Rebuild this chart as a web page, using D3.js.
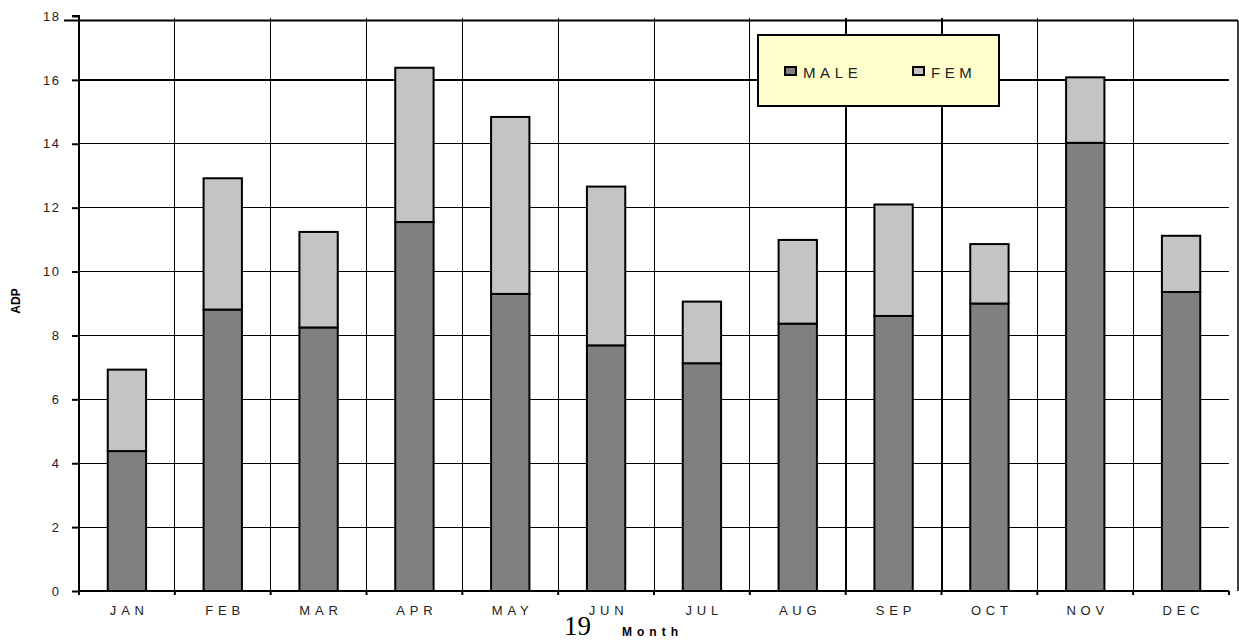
<!DOCTYPE html>
<html><head><meta charset="utf-8">
<script src="https://cdn.jsdelivr.net/npm/d3@7"></script>
<style>
html,body{margin:0;padding:0;background:#fff;}
svg{display:block;font-family:"Liberation Sans",Arial,sans-serif;}
</style></head>
<body><svg id="c" width="1239" height="640"></svg>
<script>
const months = ["JAN","FEB","MAR","APR","MAY","JUN","JUL","AUG","SEP","OCT","NOV","DEC"];
const male = [4.38, 8.81, 8.25, 11.55, 9.30, 7.69, 7.13, 8.37, 8.61, 9.00, 14.03, 9.36];
const fem  = [2.55, 4.11, 2.99, 4.83, 5.54, 4.97, 1.93, 2.62, 3.49, 1.86, 2.05, 1.76];
const seriesNames = ["MALE","FEM"];
const seriesColors = ["#808080","#c4c4c4"];
const yTicks = [0,2,4,6,8,10,12,14,16,18];

const svg = d3.select("#c");
const L = 79, R = 1229, B = 591, T = 16;
const x = d3.scaleBand().domain(months).range([L, R]).paddingInner(0.6).paddingOuter(0.3);
const y = d3.scaleLinear().domain([0, 18]).range([B, T]);
const step = x.step();

// horizontal gridlines
svg.append("g").selectAll("line").data(yTicks.filter(d => d > 0 && d < 18)).join("line")
  .attr("x1", L).attr("x2", R).attr("y1", d => y(d)).attr("y2", d => y(d))
  .attr("stroke", "#000").attr("stroke-width", d => d === 16 ? 2 : 1)
  .attr("shape-rendering", "crispEdges");

// vertical gridlines at category boundaries
svg.append("g").selectAll("line").data(d3.range(1, months.length)).join("line")
  .attr("x1", i => L + i * step).attr("x2", i => L + i * step)
  .attr("y1", T + 2).attr("y2", B)
  .attr("stroke", "#000").attr("stroke-width", i => (i === 8 || i === 9) ? 2 : 1)
  .attr("shape-rendering", "crispEdges");

// outer frame (top and right)
svg.append("line").attr("x1", 64).attr("x2", 1238).attr("y1", 20.5).attr("y2", 20.5)
  .attr("stroke", "#000").attr("stroke-width", 2);
svg.append("line").attr("x1", 1238).attr("x2", 1238).attr("y1", 20.5).attr("y2", 591)
  .attr("stroke", "#000").attr("stroke-width", 1.5);

// stacked bars
const rows = months.map((m, i) => ({month: m, MALE: male[i], FEM: fem[i]}));
const stack = d3.stack().keys(seriesNames)(rows);
svg.append("g").selectAll("g").data(stack).join("g")
  .attr("fill", (d, i) => seriesColors[i])
  .selectAll("rect").data(d => d).join("rect")
  .attr("x", d => x(d.data.month))
  .attr("width", x.bandwidth())
  .attr("y", d => y(d[1]))
  .attr("height", d => y(d[0]) - y(d[1]))
  .attr("stroke", "#000").attr("stroke-width", 2);

// y axis
const yAxis = svg.append("g").attr("transform", `translate(${L},0)`)
  .call(d3.axisLeft(y).tickValues(yTicks).tickSize(7).tickPadding(13).tickFormat(d3.format("d")));
yAxis.select(".domain").attr("stroke", "#000").attr("stroke-width", 2).attr("d", `M-7,${T}H0V${B}`);
yAxis.selectAll(".tick line").attr("stroke-width", 2);
yAxis.selectAll(".tick text").attr("font-size", 13).attr("fill", "#222")
  .attr("font-family", "Liberation Sans, Arial, sans-serif")
  .style("letter-spacing", "1.6px").attr("dx", "1.6px");

// x axis
const xAxis = svg.append("g").attr("transform", `translate(0,${B})`)
  .call(d3.axisBottom(x).tickSize(0).tickPadding(15));
xAxis.select(".domain").attr("stroke", "#000").attr("stroke-width", 2).attr("d", `M${L},0H${R}`);
xAxis.selectAll(".tick text").attr("font-size", 13).attr("fill", "#222")
  .attr("font-family", "Liberation Sans, Arial, sans-serif")
  .style("letter-spacing", "4.8px").attr("dx", "2.4px");
svg.append("g").selectAll("line").data(d3.range(0, months.length + 1)).join("line")
  .attr("x1", i => L + i * step).attr("x2", i => L + i * step)
  .attr("y1", B).attr("y2", B + 4).attr("stroke", "#000").attr("stroke-width", 2);

// axis titles
svg.append("text").attr("transform", "translate(20,301) rotate(-90)")
  .attr("text-anchor", "middle").attr("font-size", 12).attr("font-weight", "bold").text("ADP");
svg.append("text").attr("x", 622).attr("y", 636).attr("font-size", 12).attr("font-weight", "bold")
  .style("letter-spacing", "5px").text("Month");
svg.append("text").attr("x", 564).attr("y", 635).attr("font-size", 27)
  .attr("font-family", "Liberation Serif, Times New Roman, serif").text("19");

// legend
const lg = svg.append("g");
lg.append("rect").attr("x", 758).attr("y", 35).attr("width", 241).attr("height", 71)
  .attr("fill", "#ffffcc").attr("stroke", "#000").attr("stroke-width", 2);
const legX = [785, 913];
seriesNames.forEach((n, i) => {
  lg.append("rect").attr("x", legX[i]).attr("y", 67).attr("width", 11).attr("height", 8)
    .attr("fill", seriesColors[i]).attr("stroke", "#000").attr("stroke-width", 2);
  lg.append("text").attr("x", legX[i] + 18).attr("y", 77.5).attr("font-size", 15).attr("fill", "#222")
    .style("letter-spacing", "4.6px").text(n);
});
</script></body></html>
